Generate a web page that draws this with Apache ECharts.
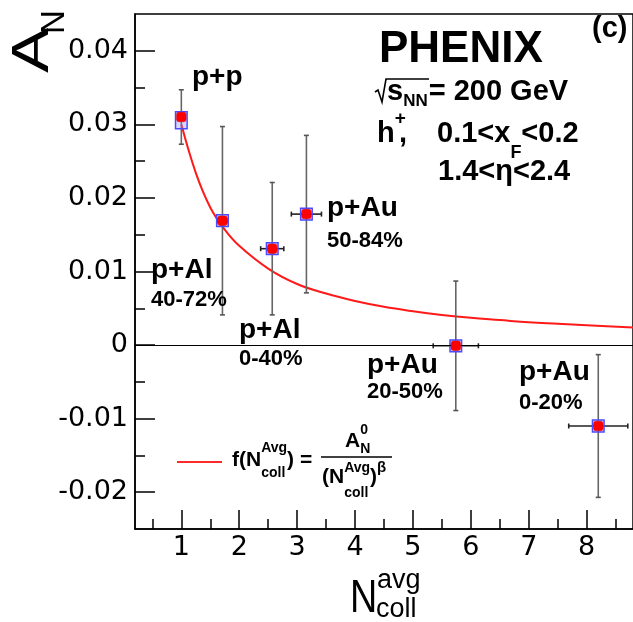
<!DOCTYPE html>
<html>
<head>
<meta charset="utf-8">
<script src="https://cdn.jsdelivr.net/npm/echarts@6/dist/echarts.min.js"></script>
<style>html,body{margin:0;padding:0;background:#fff;}#c{width:633px;height:622px;}</style>
</head>
<body>
<div id="c"></div>
<script>
// ---- data ----
const systems   = ['p+p', 'p+Al 40-72%', 'p+Al 0-40%', 'p+Au 50-84%', 'p+Au 20-50%', 'p+Au 0-20%'];
const nColl     = [1.00, 1.71, 2.57, 3.16, 5.74, 8.20];
const nCollErr  = [0.00, 0.08, 0.20, 0.26, 0.39, 0.51];
const aN        = [0.0310, 0.0169, 0.0131, 0.0178, -0.0001, -0.0110];
const aNStatErr = [0.0037, 0.0128, 0.0090, 0.0107, 0.0088, 0.0097];
const systLow   = [0.0294, 0.0161, 0.0123, 0.0170, -0.0009, -0.0118];
const systHigh  = [0.0317, 0.0177, 0.0139, 0.0186, 0.0007, -0.0102];
const fitN = [1.0, 1.25, 1.5, 1.75, 2.0, 2.5, 3.0, 3.5, 4.0, 4.5, 5.0, 5.5, 6.0, 6.5, 7.0, 7.5, 8.0, 8.8];
const fitA = [0.0300, 0.0234, 0.0187, 0.0157, 0.0135, 0.0104, 0.0083, 0.0070, 0.0060, 0.0052, 0.0046, 0.0041, 0.0037, 0.0034, 0.0031, 0.0029, 0.0027, 0.0024];
const xMajorTicks = [1, 2, 3, 4, 5, 6, 7, 8];
const xMinorTicks = [0.5, 1.5, 2.5, 3.5, 4.5, 5.5, 6.5, 7.5, 8.5];
const yMajorTicks = [-0.02, -0.01, 0, 0.01, 0.02, 0.03, 0.04];
const yMinorTicks = [-0.015, -0.005, 0.005, 0.015, 0.025, 0.035];

const chart = echarts.init(document.getElementById('c'), null, {renderer: 'canvas'});
const BF = 'Liberation Sans';
const BOX_HALF_W = 0.1;

const mctx = document.createElement('canvas').getContext('2d');
function fontStr(size, weight, family) {
  return (weight || 'bold') + ' ' + size + 'px "' + (family || BF) + '"';
}
function textW(text, size, weight, family) {
  mctx.font = fontStr(size, weight, family);
  return mctx.measureText(text).width;
}
function T(text, x, y, size, extra) {
  extra = extra || {};
  return {
    type: 'text', x: x, y: y, rotation: extra.rotation || 0,
    scaleX: extra.scaleX || 1, scaleY: extra.scaleY || 1, z: 100,
    style: {
      text: text, fill: '#000',
      font: fontStr(size, extra.weight, extra.family),
      textAlign: extra.align || 'left', textVerticalAlign: 'middle'
    }
  };
}
function L(x1, y1, x2, y2, w, c) {
  return {type: 'line', z: 100, shape: {x1: x1, y1: y1, x2: x2, y2: y2}, style: {stroke: c || '#000', lineWidth: w || 1.5}};
}
// sequence of pieces; each piece: [text, size, dy] or a stacked pair {sup:[t,s,dy], sub:[t,s,dy]}
function seq(x, y, parts, out, weight) {
  let cx = x;
  parts.forEach(p => {
    if (Array.isArray(p)) {
      out.push(T(p[0], cx, y + (p[2] || 0), p[1], {weight: weight}));
      cx += textW(p[0], p[1], weight);
    } else if (p.gap) {
      cx += p.gap;
    } else {
      let w = 0;
      [p.sup, p.sub].forEach(q => {
        if (!q) return;
        out.push(T(q[0], cx, y + q[2], q[1], {weight: weight}));
        w = Math.max(w, textW(q[0], q[1], weight));
      });
      cx += w;
    }
  });
  return cx;
}

const graphics = [];
// header
graphics.push(T('PHENIX', 379, 50, 44));
graphics.push(T('(c)', 592, 29, 29));
// sqrt(s_NN) = 200 GeV
graphics.push({type: 'polyline', z: 100, shape: {points: [[375, 92], [378, 90], [382, 102], [386, 79], [429, 79]]},
  style: {stroke: '#000', lineWidth: 1.6, fill: null}});
seq(387, 92, [['s', 29, 0], ['NN', 17, 9], {gap: 1}, ['= 200 GeV', 29, 0]], graphics);
// h+, 0.1<xF<0.2
seq(377, 134, [['h', 29, 0], {sup: ['+', 19, -15]}], graphics);
graphics.push(T(',', 399, 134, 29));
seq(437, 134, [['0.1<x', 29, 0], {sub: ['F', 18, 19]}, ['<0.2', 29, 0]], graphics);
graphics.push(T('1.4<\u03b7<2.4', 438, 172, 29));
// system labels
graphics.push(
  T('p+p', 192, 77, 28),
  T('p+Al', 151, 270, 28),
  T('40-72%', 151, 300, 22),
  T('p+Al', 239, 330, 28),
  T('0-40%', 239, 359, 22),
  T('p+Au', 327, 208, 28),
  T('50-84%', 327, 241, 22),
  T('p+Au', 367, 365, 28),
  T('20-50%', 367, 392, 22),
  T('p+Au', 519, 372, 28),
  T('0-20%', 519, 403, 22)
);
// legend
graphics.push(L(177, 462, 222, 462, 2, '#ff2a2a'));
seq(232, 460, [['f(N', 21, 0], {sup: ['Avg', 14, -12], sub: ['coll', 14, 13]}, [') =', 21, 0]], graphics);
graphics.push(L(321, 457, 392, 457, 1.6));
seq(345, 441, [['A', 21, 0], {sup: ['0', 14, -11], sub: ['N', 14, 8]}], graphics);
seq(322, 477, [['(N', 21, 0], {sup: ['Avg', 14, -9], sub: ['coll', 14, 16]}, [')', 21, 0], ['\u03b2', 15, -9]], graphics);
// axis titles
graphics.push(
  T('A', 34, 73, 52, {rotation: Math.PI / 2, scaleX: 1.3, weight: 'normal'}),
  T('N', 55, 34, 33, {rotation: Math.PI / 2, weight: 'normal'}),
  T('N', 350, 599, 46, {weight: 'normal', scaleX: 0.82}),
  T('avg', 377, 581, 27, {weight: 'normal'}),
  T('coll', 376, 610, 27, {weight: 'normal'})
);

const option = {
  animation: false,
  backgroundColor: '#fff',
  grid: {left: 135, top: 14, right: -3, bottom: 93, show: true, borderColor: '#000', borderWidth: 1.5, backgroundColor: 'transparent'},
  xAxis: [
    {type: 'value', min: 0.2, max: 8.8, position: 'bottom',
     axisLine: {show: true, onZero: false, lineStyle: {color: '#000', width: 1.5}},
     axisTick: {show: true, inside: true, length: 19, customValues: xMajorTicks, lineStyle: {color: '#000', width: 1.5}},
     axisLabel: {show: true, customValues: xMajorTicks, margin: 5, fontFamily: 'DejaVu Sans', fontSize: 27, color: '#000'},
     splitLine: {show: false}},
    {type: 'value', min: 0.2, max: 8.8, position: 'bottom',
     axisLine: {show: false, onZero: false},
     axisTick: {show: true, inside: true, length: 10, customValues: xMinorTicks, lineStyle: {color: '#000', width: 1.5}},
     axisLabel: {show: false}, splitLine: {show: false}}
  ],
  yAxis: [
    {type: 'value', min: -0.025, max: 0.045, position: 'left',
     axisLine: {show: true, onZero: false, lineStyle: {color: '#000', width: 1.5}},
     axisTick: {show: true, inside: true, length: 20, customValues: yMajorTicks, lineStyle: {color: '#000', width: 1.5}},
     axisLabel: {show: true, customValues: yMajorTicks, margin: 7, fontFamily: 'DejaVu Sans', fontSize: 27, color: '#000',
       formatter: v => (Math.abs(v) < 1e-9 ? '0' : v.toFixed(2))},
     splitLine: {show: false}},
    {type: 'value', min: -0.025, max: 0.045, position: 'left',
     axisLine: {show: false, onZero: false},
     axisTick: {show: true, inside: true, length: 10, customValues: yMinorTicks, lineStyle: {color: '#000', width: 1.5}},
     axisLabel: {show: false}, splitLine: {show: false}}
  ],
  graphic: graphics,
  series: [
    {
      type: 'line', xAxisIndex: 0, yAxisIndex: 0, z: 2,
      data: fitN.map((n, i) => [n, fitA[i]]),
      smooth: 0.4, showSymbol: false, symbol: 'none',
      lineStyle: {color: '#ff1a1a', width: 2},
      markLine: {silent: true, symbol: 'none', label: {show: false},
        lineStyle: {color: '#000', width: 1, type: 'solid'},
        data: [{yAxis: 0}]}
    },
    {
      type: 'custom', xAxisIndex: 0, yAxisIndex: 0, z: 3,
      data: nColl.map((n, i) => [n, aN[i], nCollErr[i], aNStatErr[i]]),
      renderItem: function (params, api) {
        const x = api.value(0), y = api.value(1), ex = api.value(2), ey = api.value(3);
        const top = api.coord([x, y + ey]), bot = api.coord([x, y - ey]);
        const left = api.coord([x - ex, y]), right = api.coord([x + ex, y]);
        const cap = 2.5;
        const children = [
          {type: 'line', shape: {x1: top[0], y1: top[1], x2: bot[0], y2: bot[1]}, style: {stroke: '#666', lineWidth: 1.6}},
          {type: 'line', shape: {x1: top[0] - cap, y1: top[1], x2: top[0] + cap, y2: top[1]}, style: {stroke: '#555', lineWidth: 1.6}},
          {type: 'line', shape: {x1: bot[0] - cap, y1: bot[1], x2: bot[0] + cap, y2: bot[1]}, style: {stroke: '#555', lineWidth: 1.6}}
        ];
        if (ex > 0) {
          children.push(
            {type: 'line', shape: {x1: left[0], y1: left[1], x2: right[0], y2: right[1]}, style: {stroke: '#222', lineWidth: 1.6}},
            {type: 'line', shape: {x1: left[0], y1: left[1] - cap, x2: left[0], y2: left[1] + cap}, style: {stroke: '#222', lineWidth: 1.6}},
            {type: 'line', shape: {x1: right[0], y1: right[1] - cap, x2: right[0], y2: right[1] + cap}, style: {stroke: '#222', lineWidth: 1.6}}
          );
        }
        return {type: 'group', children: children};
      }
    },
    {
      type: 'custom', xAxisIndex: 0, yAxisIndex: 0, z: 4,
      data: nColl.map((n, i) => [n, systLow[i], systHigh[i]]),
      renderItem: function (params, api) {
        const x = api.value(0);
        const p1 = api.coord([x - BOX_HALF_W, api.value(2)]);
        const p2 = api.coord([x + BOX_HALF_W, api.value(1)]);
        return {type: 'rect', shape: {x: p1[0], y: p1[1], width: p2[0] - p1[0], height: p2[1] - p1[1]},
          style: {fill: 'rgba(150,140,255,0.35)', stroke: '#4a4aff', lineWidth: 1.5}};
      }
    },
    {
      type: 'scatter', xAxisIndex: 0, yAxisIndex: 0, z: 5,
      data: nColl.map((n, i) => [n, aN[i]]),
      symbol: 'roundRect', symbolSize: 9.5,
      itemStyle: {color: '#ff0000', borderColor: '#e00000', borderWidth: 0.5, opacity: 1}
    }
  ]
};
chart.setOption(option);
</script>
</body>
</html>
